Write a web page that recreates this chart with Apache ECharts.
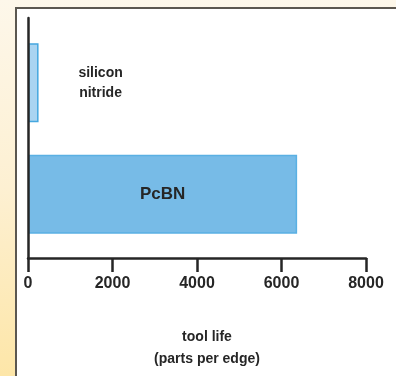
<!DOCTYPE html>
<html>
<head>
<meta charset="utf-8">
<script src="https://cdn.jsdelivr.net/npm/echarts@6/dist/echarts.min.js"></script>
<style>
html, body { margin: 0; padding: 0; width: 396px; height: 376px; overflow: hidden;
  background: linear-gradient(to bottom, #fdf7ea 0%, #fdf0d2 50%, #fde6a8 100%); }
#panel { position: absolute; left: 15px; top: 7px; right: 0; bottom: 0; background: #fff;
  border-top: 2px solid #5b5750; border-left: 2px solid #5b5750; }
#chart { position: absolute; left: 0; top: 0; width: 396px; height: 376px; }
</style>
</head>
<body>
<div id="panel"></div>
<div id="chart"></div>
<script>
// === ДАННЫЕ ===
const categories = ['silicon nitride', 'PcBN'];
const toolLife = [250, 6370];
const barColors = ['#aad4f1', '#77bbe7'];
const barBorders = ['#45a7df', '#5ab0e3'];
const axisName = 'tool life\n(parts per edge)';

const FONT = '"Liberation Sans", Arial, sans-serif';
const INK = '#262626';

// === РЕНДЕРИНГ ===
const chart = echarts.init(document.getElementById('chart'), null, { renderer: 'canvas' });

const labelFor = i => i === 0
    ? { show: true, position: 'right', distance: 62, align: 'center', fontSize: 14, lineHeight: 20 }
    : { show: true, position: 'inside', fontSize: 17 };

const option = {
    backgroundColor: 'transparent',
    animation: false,
    grid: [
        { left: 28, right: 30, top: 18, bottom: 118 },
        { left: 28, right: 30, top: 27, bottom: 126 }
    ],
    xAxis: [
        {
            gridIndex: 0, type: 'value', min: 0, max: 8000, interval: 2000,
            axisLine: { show: true, lineStyle: { color: INK, width: 2.5 } },
            axisTick: { show: true, length: 14, lineStyle: { color: INK, width: 2.5 } },
            axisLabel: { color: INK, fontFamily: FONT, fontWeight: 'bold', fontSize: 16, margin: 18,
                         formatter: v => String(v) },
            splitLine: { show: false },
            name: axisName, nameLocation: 'middle', nameGap: 68,
            nameTextStyle: { color: INK, fontFamily: FONT, fontWeight: 'bold', fontSize: 14, lineHeight: 22, padding: [0, 0, 0, 20] },
            z: 5
        },
        { gridIndex: 1, type: 'value', min: 0, max: 8000, show: false }
    ],
    yAxis: [
        {
            gridIndex: 0, type: 'category', data: categories,
            axisLine: { show: true, lineStyle: { color: INK, width: 2.5 } },
            axisTick: { show: false }, axisLabel: { show: false }, z: 5
        },
        { gridIndex: 1, type: 'category', data: categories, inverse: true, show: false }
    ],
    series: [{
        type: 'bar',
        xAxisIndex: 1, yAxisIndex: 1,
        barCategoryGap: '29%',
        data: toolLife.map((v, i) => ({
            value: v,
            itemStyle: { color: barColors[i], borderColor: barBorders[i], borderWidth: 1.5 },
            label: labelFor(i)
        })),
        label: {
            color: INK, fontFamily: FONT, fontWeight: 'bold',
            formatter: p => p.name.replace(' ', '\n')
        },
        z: 2
    }]
};

chart.setOption(option);
</script>
</body>
</html>
